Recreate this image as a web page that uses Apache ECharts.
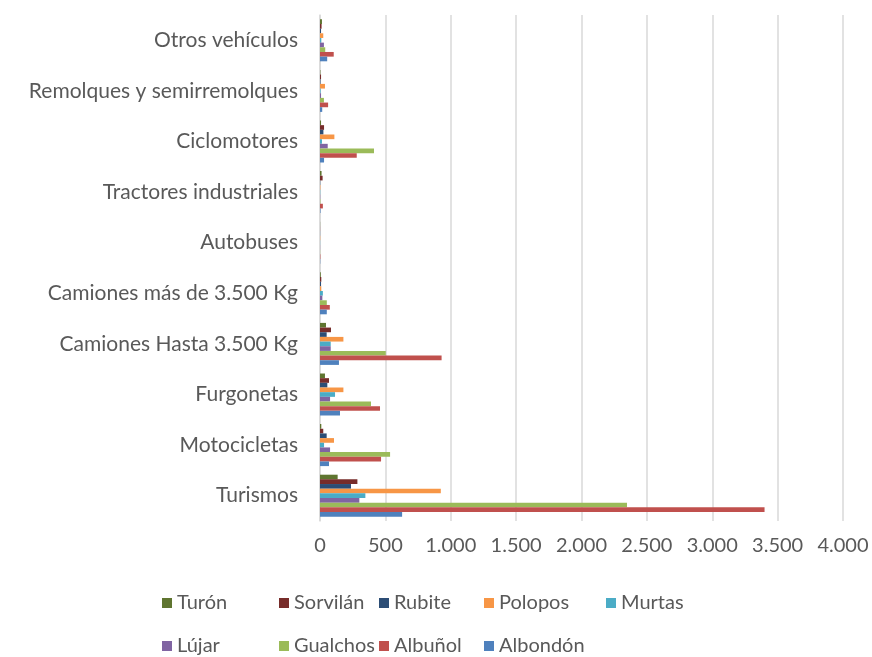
<!DOCTYPE html>
<html>
<head>
<meta charset="utf-8">
<script src="https://cdn.jsdelivr.net/npm/echarts@6/dist/echarts.min.js"></script>
<style>
  html, body { margin: 0; padding: 0; background: #ffffff; }
  #chart { width: 872px; height: 657px; }
</style>
</head>
<body>
<div id="chart"></div>
<script>
// Vehicle categories (first one is drawn at the bottom)
const categories = [
  'Turismos', 'Motocicletas', 'Furgonetas', 'Camiones Hasta 3.500 Kg',
  'Camiones más de 3.500 Kg', 'Autobuses', 'Tractores industriales',
  'Ciclomotores', 'Remolques y semirremolques', 'Otros vehículos'
];

// Vehicles per municipality, one value per category
const albondon = [628, 69, 153, 145, 52, 2, 4, 31, 17, 55];
const albunol  = [3400, 467, 459, 930, 75, 3, 22, 281, 62, 105];
const gualchos = [2348, 536, 390, 503, 52, 1, 3, 413, 30, 40];
const lujar    = [301, 77, 77, 82, 18, 1, 2, 59, 8, 30];
const murtas   = [347, 31, 115, 82, 22, 1, 2, 15, 5, 10];
const polopos  = [924, 107, 179, 179, 10, 2, 3, 110, 38, 25];
const rubite   = [237, 51, 56, 51, 8, 1, 2, 26, 4, 8];
const sorvilan = [286, 25, 69, 84, 10, 1, 20, 31, 8, 12];
const turon    = [135, 10, 38, 46, 6, 1, 12, 8, 3, 15];

// Value axis ticks
const xTicks = [0, 500, 1000, 1500, 2000, 2500, 3000, 3500, 4000];

// Bars inside each group go from top (Turón) to bottom (Albondón)
const seriesNames = ['Turón', 'Sorvilán', 'Rubite', 'Polopos', 'Murtas', 'Lújar', 'Gualchos', 'Albuñol', 'Albondón'];
const seriesValues = [turon, sorvilan, rubite, polopos, murtas, lujar, gualchos, albunol, albondon];
const seriesColors = ['#5F7530', '#772C2A', '#2C4D75', '#F79646', '#4BACC6', '#8064A2', '#9BBB59', '#C0504D', '#4F81BD'];

// Legend grid: name -> [left, top] of each entry
const legendSlots = {
  'Turón':    [162, 593],
  'Sorvilán': [279, 593],
  'Rubite':   [379, 593],
  'Polopos':  [484, 593],
  'Murtas':   [606, 593],
  'Lújar':    [162, 636],
  'Gualchos': [279, 636],
  'Albuñol':  [379, 636],
  'Albondón': [484, 636]
};

const fontFamily = 'Lato, "Open Sans", sans-serif';
const textColor = '#595959';

function fmt(v) {
  return String(v).replace(/\B(?=(\d{3})+(?!\d))/g, '.');
}

const legends = Object.keys(legendSlots).map(function (name) {
  return {
    data: [name],
    left: legendSlots[name][0],
    top: legendSlots[name][1],
    orient: 'horizontal',
    icon: 'rect',
    itemWidth: 10,
    itemHeight: 10,
    itemGap: 0,
    padding: 0,
    selectedMode: false,
    textStyle: { fontFamily: fontFamily, fontSize: 20, color: textColor, padding: [0, 0, 0, 0] }
  };
});

const chart = echarts.init(document.getElementById('chart'), null, { renderer: 'canvas' });

chart.setOption({
  animation: false,
  backgroundColor: '#ffffff',
  grid: { left: 320, right: 29, top: 15, bottom: 136, containLabel: false },
  legend: legends,
  xAxis: {
    type: 'value',
    min: xTicks[0],
    max: xTicks[xTicks.length - 1],
    interval: xTicks[1] - xTicks[0],
    axisLine: { show: false },
    axisTick: { show: false },
    splitLine: { show: true, lineStyle: { color: '#D9D9D9', width: 1.5 } },
    axisLabel: {
      color: textColor,
      fontFamily: fontFamily,
      fontSize: 20,
      margin: 15,
      formatter: fmt
    }
  },
  yAxis: {
    type: 'category',
    data: categories,
    axisLine: { show: true, lineStyle: { color: '#D9D9D9', width: 1.5 } },
    axisTick: { show: false },
    axisLabel: {
      color: textColor,
      fontFamily: fontFamily,
      fontSize: 21,
      margin: 22
    }
  },
  series: seriesNames.map(function (name, i) {
    return {
      name: name,
      type: 'bar',
      data: seriesValues[i],
      itemStyle: { color: seriesColors[i] },
      barGap: '0%',
      barCategoryGap: '17%'
    };
  })
});
</script>
</body>
</html>
